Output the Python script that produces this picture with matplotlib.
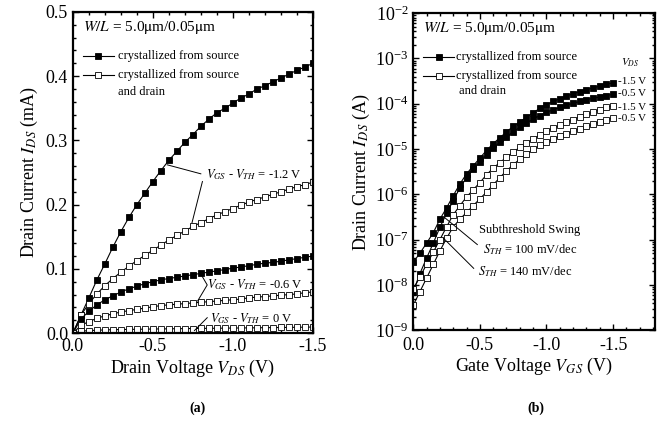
import matplotlib
matplotlib.use("Agg")
import matplotlib.pyplot as plt
import numpy as np
from matplotlib.ticker import MultipleLocator, LogLocator, NullFormatter

plt.rcParams['font.family'] = 'Liberation Serif'
plt.rcParams['mathtext.fontset'] = 'stix'
plt.rcParams['axes.unicode_minus'] = False

# sweep voltage (V), shared by both panels
v_sweep = [0.0, -0.05, -0.10, -0.15, -0.20, -0.25, -0.30, -0.35, -0.40, -0.45,
           -0.50, -0.55, -0.60, -0.65, -0.70, -0.75, -0.80, -0.85, -0.90, -0.95,
           -1.00, -1.05, -1.10, -1.15, -1.20, -1.25, -1.30, -1.35, -1.40, -1.45, -1.50]

# (a) output characteristics, I_DS in mA
ids_src_12 = [0.0, 0.028, 0.055, 0.083, 0.108, 0.134, 0.158, 0.180, 0.200, 0.218,
              0.236, 0.253, 0.269, 0.283, 0.297, 0.309, 0.322, 0.333, 0.343, 0.350,
              0.358, 0.366, 0.372, 0.380, 0.385, 0.391, 0.397, 0.403, 0.409, 0.414, 0.420]
ids_sd_12 = [0.0, 0.028, 0.046, 0.061, 0.074, 0.085, 0.095, 0.104, 0.113, 0.121,
             0.129, 0.137, 0.145, 0.152, 0.159, 0.166, 0.172, 0.178, 0.184, 0.189,
             0.194, 0.199, 0.204, 0.208, 0.212, 0.216, 0.220, 0.224, 0.228, 0.231, 0.235]
ids_src_06 = [0.0, 0.022, 0.034, 0.044, 0.052, 0.058, 0.064, 0.069, 0.073, 0.077,
              0.080, 0.083, 0.085, 0.087, 0.089, 0.091, 0.093, 0.095, 0.097, 0.099,
              0.101, 0.103, 0.105, 0.107, 0.109, 0.110, 0.112, 0.114, 0.116, 0.118, 0.120]
ids_sd_06 = [0.0, 0.012, 0.018, 0.023, 0.027, 0.030, 0.033, 0.035, 0.037, 0.039,
             0.041, 0.043, 0.044, 0.045, 0.046, 0.047, 0.048, 0.049, 0.050, 0.051,
             0.052, 0.053, 0.055, 0.056, 0.057, 0.058, 0.059, 0.060, 0.061, 0.063, 0.064]
ids_sd_00 = [0.0, 0.003, 0.004, 0.0045, 0.005, 0.0053, 0.0056, 0.0058, 0.006, 0.0062,
             0.0064, 0.0066, 0.0067, 0.0069, 0.007, 0.0072, 0.0073, 0.0075, 0.0076, 0.0078,
             0.0079, 0.008, 0.0082, 0.0083, 0.0085, 0.0086, 0.0088, 0.0089, 0.0091, 0.0093, 0.0095]

# (b) transfer characteristics, log10(I_DS / A)
log_src_15 = [-7.50, -7.30, -7.08, -6.85, -6.55, -6.30, -6.03, -5.77, -5.55, -5.37,
              -5.20, -5.03, -4.88, -4.75, -4.62, -4.50, -4.40, -4.30, -4.20, -4.10,
              -4.02, -3.95, -3.89, -3.83, -3.78, -3.73, -3.69, -3.65, -3.61, -3.57, -3.54]
log_src_05 = [-8.15, -7.75, -7.41, -7.08, -6.73, -6.42, -6.14, -5.86, -5.63, -5.45,
              -5.29, -5.13, -4.98, -4.85, -4.73, -4.62, -4.52, -4.43, -4.34, -4.26,
              -4.19, -4.13, -4.08, -4.03, -3.99, -3.95, -3.91, -3.88, -3.85, -3.82, -3.79]
log_sd_15 = [-8.10, -7.82, -7.55, -7.28, -7.00, -6.72, -6.45, -6.25, -6.06, -5.90,
             -5.74, -5.57, -5.42, -5.30, -5.18, -5.07, -4.96, -4.87, -4.78, -4.69,
             -4.61, -4.54, -4.47, -4.41, -4.35, -4.29, -4.23, -4.18, -4.13, -4.08, -4.04]
log_sd_05 = [-8.45, -8.15, -7.85, -7.55, -7.25, -6.97, -6.72, -6.55, -6.40, -6.25,
             -6.10, -5.95, -5.79, -5.63, -5.48, -5.35, -5.22, -5.11, -5.01, -4.92,
             -4.85, -4.78, -4.72, -4.66, -4.60, -4.55, -4.50, -4.45, -4.40, -4.35, -4.31]

filled = dict(color='black', lw=0.8, marker='s', ms=4.2, mfc='black', mec='black', mew=0.6)
hollow = dict(color='black', lw=0.8, marker='s', ms=4.2, mfc='white', mec='black', mew=0.6)


def style_axes(ax):
    for s in ax.spines.values():
        s.set_linewidth(1.6)
    ax.tick_params(which='both', direction='in', top=True, right=True, labelsize=13, width=1)
    ax.tick_params(which='major', length=4)
    ax.tick_params(which='minor', length=2)


def legend_rows(ax, ymarks):
    # short sample line with a marker in its middle
    for y, st in zip(ymarks, [filled, hollow]):
        ax.plot([0.04, 0.105, 0.17], [y] * 3, transform=ax.transAxes, **st,
                markevery=[1], clip_on=False)


fig = plt.figure(figsize=(6.57, 4.26), dpi=100)
fig.patch.set_facecolor('white')

# ---- panel (a)
ax1 = fig.add_axes([0.111, 0.218, 0.365, 0.754])
v = np.array(v_sweep)
ax1.plot(v, ids_src_12, **filled)
ax1.plot(v, ids_sd_12, **hollow)
ax1.plot(v, ids_src_06, **filled)
ax1.plot(v, ids_sd_06, **hollow)
ax1.plot(v, ids_sd_00, **hollow)
ax1.set_xlim(0, -1.5)
ax1.set_ylim(0, 0.5)
ax1.xaxis.set_major_locator(MultipleLocator(0.5))
ax1.xaxis.set_minor_locator(MultipleLocator(0.1))
ax1.yaxis.set_major_locator(MultipleLocator(0.1))
ax1.yaxis.set_minor_locator(MultipleLocator(0.02))
ax1.xaxis.set_major_formatter(plt.FormatStrFormatter('%.1f'))
ax1.yaxis.set_major_formatter(plt.FormatStrFormatter('%.1f'))
style_axes(ax1)
ax1.set_xlabel(r'Drain Voltage $V_{DS}$ (V)', fontsize=13, labelpad=2)
ax1.set_ylabel(r'Drain Current $I_{DS}$ (mA)', fontsize=13, labelpad=4)

ax1.text(0.04, 0.953, r'$W/L$ = 5.0$\mathrm{\mu}$m/0.05$\mathrm{\mu}$m', transform=ax1.transAxes,
         fontsize=11, va='center')
legend_rows(ax1, [0.862, 0.803])
ax1.text(0.19, 0.862, 'crystallized from source', transform=ax1.transAxes, fontsize=9, va='center')
ax1.text(0.19, 0.803, 'crystallized from source', transform=ax1.transAxes, fontsize=9, va='center')
ax1.text(0.19, 0.750, 'and drain', transform=ax1.transAxes, fontsize=9, va='center')

ax1.text(-0.83, 0.247, r'$V_{GS}$ - $V_{TH}$ = -1.2 V', fontsize=9, va='center')
ax1.plot([-0.59, -0.80], [0.262, 0.248], color='black', lw=0.7)
ax1.plot([-0.745, -0.81], [0.172, 0.236], color='black', lw=0.7)
ax1.text(-0.84, 0.075, r'$V_{GS}$ - $V_{TH}$ = -0.6 V', fontsize=9, va='center')
ax1.plot([-0.80, -0.84, -0.78], [0.092, 0.075, 0.050], color='black', lw=0.7)
ax1.text(-0.86, 0.022, r'$V_{GS}$ - $V_{TH}$ = 0 V', fontsize=9, va='center')
ax1.plot([-0.76, -0.84], [0.004, 0.024], color='black', lw=0.7)

# ---- panel (b)
ax2 = fig.add_axes([0.629, 0.225, 0.368, 0.744])
ax2.semilogy(v, 10.0 ** np.array(log_src_15), **filled)
ax2.semilogy(v, 10.0 ** np.array(log_src_05), **filled)
ax2.semilogy(v, 10.0 ** np.array(log_sd_15), **hollow)
ax2.semilogy(v, 10.0 ** np.array(log_sd_05), **hollow)
ax2.set_xlim(0, -1.815)
ax2.set_ylim(1e-9, 1e-2)
ax2.xaxis.set_major_locator(MultipleLocator(0.5))
ax2.xaxis.set_minor_locator(MultipleLocator(0.1))
ax2.xaxis.set_major_formatter(plt.FormatStrFormatter('%.1f'))
ax2.yaxis.set_major_locator(LogLocator(base=10, numticks=12))
ax2.yaxis.set_minor_locator(LogLocator(base=10, subs=np.arange(2, 10), numticks=12))
ax2.yaxis.set_minor_formatter(NullFormatter())
style_axes(ax2)
ax2.tick_params(axis='x', pad=5)
ax2.set_xlabel(r'Gate Voltage $V_{GS}$ (V)', fontsize=13, labelpad=1)
ax2.set_ylabel(r'Drain Current $I_{DS}$ (A)', fontsize=13, labelpad=2)

ax2.text(0.04, 0.953, r'$W/L$ = 5.0$\mathrm{\mu}$m/0.05$\mathrm{\mu}$m', transform=ax2.transAxes,
         fontsize=11, va='center')
legend_rows(ax2, [0.862, 0.802])
ax2.text(0.178, 0.862, 'crystallized from source', transform=ax2.transAxes, fontsize=9, va='center')
ax2.text(0.178, 0.802, 'crystallized from source', transform=ax2.transAxes, fontsize=9, va='center')
ax2.text(0.19, 0.754, 'and drain', transform=ax2.transAxes, fontsize=9, va='center')

ax2.text(0.86, 0.845, r'$V_{DS}$', transform=ax2.transAxes, fontsize=8, va='center')
for yy, lab in zip([0.785, 0.747, 0.703, 0.667], ['-1.5 V', '-0.5 V', '-1.5 V', '-0.5 V']):
    ax2.text(0.845, yy, lab, transform=ax2.transAxes, fontsize=8, va='center')

ax2.text(0.27, 0.315, 'Subthreshold Swing', transform=ax2.transAxes, fontsize=9, va='center')
ax2.text(0.288, 0.255, r'$S_{TH}$ = 100 mV/dec', transform=ax2.transAxes, fontsize=9, va='center')
ax2.text(0.268, 0.185, r'$S_{TH}$ = 140 mV/dec', transform=ax2.transAxes, fontsize=9, va='center')
ax2.plot([0.13, 0.265], [0.355, 0.27], transform=ax2.transAxes, color='black', lw=0.7)
ax2.plot([0.125, 0.25], [0.29, 0.195], transform=ax2.transAxes, color='black', lw=0.7)

fig.text(0.30, 0.033, '(a)', fontsize=10, fontweight='bold', ha='center')
fig.text(0.815, 0.033, '(b)', fontsize=10, fontweight='bold', ha='center')

fig.savefig('out.png', dpi=100, facecolor='white')
